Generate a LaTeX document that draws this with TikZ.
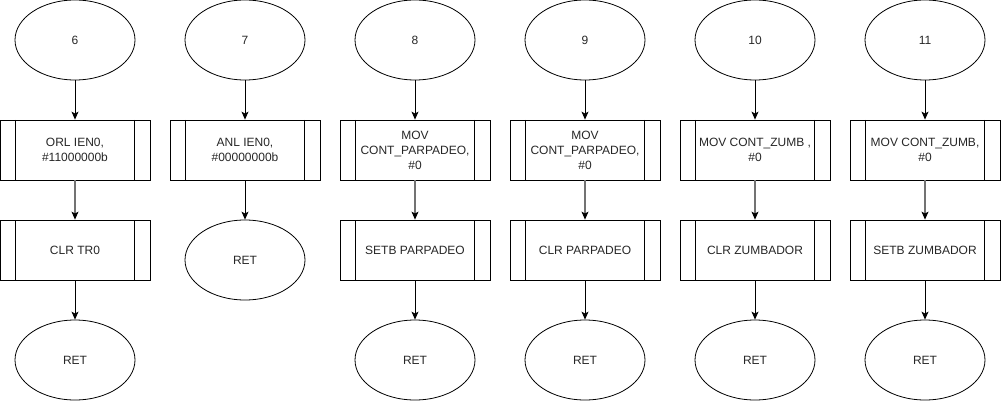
\documentclass[tikz,border=0pt]{standalone}
\usepackage{fontspec}
\setmainfont{Liberation Sans}
\usetikzlibrary{shapes.geometric,arrows.meta}
\tikzset{
  x=1pt,y=-1pt,
  every node/.style={font=\fontsize{12}{15}\selectfont, text=black!85},
  term/.style={draw, ellipse, minimum width=120pt, minimum height=80pt, inner sep=0pt, line width=0.8pt},
  procbox/.style={draw, rectangle, minimum width=150pt, minimum height=60pt, inner sep=0pt, align=center, line width=0.8pt,
    path picture={
      \draw[line width=0.8pt] ([xshift=15.7pt]path picture bounding box.north west) -- ([xshift=15.7pt]path picture bounding box.south west);
      \draw[line width=0.8pt] ([xshift=-15.7pt]path picture bounding box.north east) -- ([xshift=-15.7pt]path picture bounding box.south east);
    }},
  flow/.style={draw, line width=0.8pt, -{Stealth[length=8pt,width=7pt,inset=2pt]}},
  flowg/.style={draw=black!55, line width=1.4pt, -{Stealth[length=8pt,width=7pt,inset=2pt,color=black,line width=0.8pt]}},
}
\begin{document}
\begin{tikzpicture}
\useasboundingbox (0,0) rectangle (1001,401);
% column 1
\node[term] (s6) at (75,40) {6};
\node[procbox] (p6a) at (75,150) {ORL IEN0,\\\#11000000b};
\node[procbox] (p6b) at (75,250) {CLR TR0};
\node[term] (r6) at (75,360) {RET};
\draw[flow] (s6) -- (p6a);
\draw[flowg] (p6a) -- (p6b);
\draw[flow] (p6b) -- (r6);
% column 2
\node[term] (s7) at (245,40) {7};
\node[procbox] (p7a) at (245,150) {ANL IEN0,\\\#00000000b};
\node[term] (r7) at (245,260) {RET};
\draw[flow] (s7) -- (p7a);
\draw[flow] (p7a) -- (r7);
% column 3
\node[term] (s8) at (415,40) {8};
\node[procbox] (p8a) at (415,150) {MOV\\CONT\_PARPADEO,\\\#0};
\node[procbox] (p8b) at (415,250) {SETB PARPADEO};
\node[term] (r8) at (415,360) {RET};
\draw[flow] (s8) -- (p8a);
\draw[flowg] (p8a) -- (p8b);
\draw[flow] (p8b) -- (r8);
% column 4
\node[term] (s9) at (585,40) {9};
\node[procbox] (p9a) at (585,150) {MOV\\CONT\_PARPADEO,\\\#0};
\node[procbox] (p9b) at (585,250) {CLR PARPADEO};
\node[term] (r9) at (585,360) {RET};
\draw[flow] (s9) -- (p9a);
\draw[flowg] (p9a) -- (p9b);
\draw[flow] (p9b) -- (r9);
% column 5
\node[term] (s10) at (755,40) {10};
\node[procbox] (p10a) at (755,150) {MOV CONT\_ZUMB ,\\\#0};
\node[procbox] (p10b) at (755,250) {CLR ZUMBADOR};
\node[term] (r10) at (755,360) {RET};
\draw[flow] (s10) -- (p10a);
\draw[flowg] (p10a) -- (p10b);
\draw[flow] (p10b) -- (r10);
% column 6
\node[term] (s11) at (925,40) {11};
\node[procbox] (p11a) at (925,150) {MOV CONT\_ZUMB,\\\#0};
\node[procbox] (p11b) at (925,250) {SETB ZUMBADOR};
\node[term] (r11) at (925,360) {RET};
\draw[flow] (s11) -- (p11a);
\draw[flowg] (p11a) -- (p11b);
\draw[flow] (p11b) -- (r11);
\end{tikzpicture}
\end{document}
